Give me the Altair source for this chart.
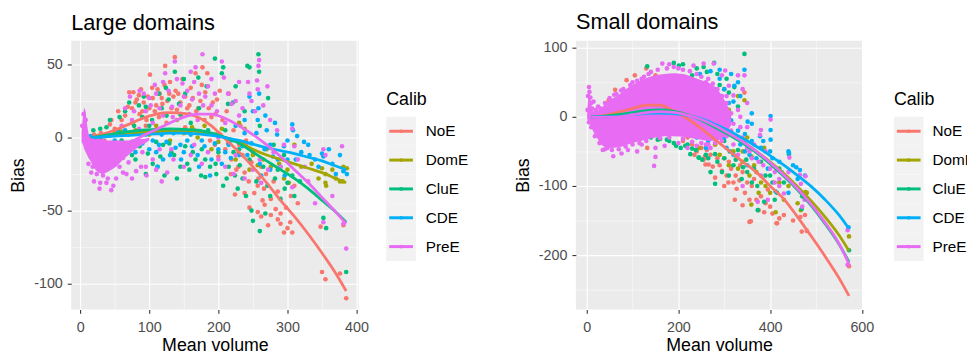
import altair as alt
import pandas as pd

FONT = "Liberation Sans, Arial, Helvetica, sans-serif"
CALIB = ["NoE", "DomE", "CluE", "CDE", "PreE"]
COLORS = ["#F8766D", "#A3A500", "#00BF7D", "#00B0F6", "#E76BF3"]

TITLES = ["Large domains", "Small domains"]
X_TITLE = "Mean volume"
Y_TITLE = "Bias"
LEGEND_TITLE = "Calib"

# ---------------- Large domains ----------------
LARGE_X_TICKS = [0, 50, 100, 150, 200, 250, 300, 350, 400]
LARGE_Y_TICKS = [-100, -75, -50, -25, 0, 25, 50]

large_noe = [(137,55),(123,49),(101,43),(177,48),(167,44),(71,31),(77,31),(85,29),(129,30),(138,32),
             (152,28),(105,27),(119,23),(160,34),(181,31),(202,32),(100,20),(86,16),(69,21),(60,12),
             (43,9),(114,14),(140,19),(171,20),(190,14),(152,7),(210,-8),(219,-15),(200,-13),(229,-20),
             (238,-24),(248,-17),(257,-33),(269,-25),(238,-38),(245,-48),(257,-51),(267,-46),(276,-53),
             (283,-49),(290,-59),(300,-62),(307,-65),(295,-65),(276,-42),(305,-40),(310,-33),(286,-37),
             (264,-43),(224,-39),(348,-61),(350,-92),(355,-97),(376,-93),(381,-60),(385,-110),(200,3),
             (188,-2),(214,-4),(30,3),(50,6),(90,18),(110,22),(125,10),(145,24),(165,5),(230,-5),
             (250,-10),(262,-20),(95,8),(60,2),(35,-2),(240,-2),(226,-22),(203,2),(280,-30),(218,-25),
             (262,-54),(20,2),(15,-3),(80,24),(130,38),(155,20),(180,12),(195,-5),(115,30),(65,15),
             (75,20),(82,26),(92,24),(98,28),(108,18),(112,33),(118,27),(126,25),(132,20),(135,28),
             (142,30),(146,15),(158,22),(163,27),(168,18),(174,25),(186,20),(192,24),(196,16),(206,12),
             (212,18),(222,5),(235,-12),(244,-30),(252,-38),(272,-60),(286,-56),(298,-48),(45,12),(55,18),
             (88,33),(96,12),(104,34),(122,36),(148,40),(176,36),(184,44),(198,26),(215,30),(232,8),
             (258,-28),(266,-35),(290,-52),(304,-58),(315,-45)]
large_dome = [(381,-20),(386,-21),(350,-21),(355,-25),(356,-33),(376,-30),(276,-20),(257,-19),(229,-11),
              (238,6),(162,7),(300,-22),(76,10),(302,-31),(355,-31),(370,-28),(250,-12),(200,-3),(150,3),
              (120,5),(100,2),(60,4),(40,2),(180,8),(215,-2),(265,-15),(288,-18),(320,-20),(140,12),
              (90,-3),(25,1),(230,10),(310,-5),(50,3),(80,5),(110,8),(130,-2),(170,0),(190,-8),(205,6),
              (225,-15),(245,-22),(270,-8),(295,-28),(335,-18),(345,-28),(365,-22),(380,-30)]
large_clue = [(137,45),(195,54),(207,48),(205,44),(258,57),(242,49),(245,48),(259,45),(272,27),(171,41),
              (214,23),(221,24),(238,18),(43,12),(57,14),(71,24),(95,21),(114,30),(143,23),(116,-13),
              (129,-4),(155,-18),(175,-26),(181,-27),(197,-25),(207,-33),(224,-26),(231,-19),(248,-50),
              (250,-57),(260,-64),(271,-33),(286,-22),(300,-31),(307,-26),(310,-40),(352,-55),(356,-62),
              (385,-92),(86,-6),(98,-11),(136,-12),(181,-15),(90,14),(19,5),(29,6),(38,7),(150,40),
              (160,10),(100,8),(60,-2),(125,15),(185,5),(230,-8),(265,-20),(280,-5),(200,-10),(215,-20),
              (240,-40),(290,-42),(120,-5),(70,-8),(110,-3),(163,-10),(195,2),(40,-18),(75,-12),(260,8),
              (65,18),(78,8),(85,22),(104,12),(118,20),(128,26),(145,16),(152,-6),(167,-15),(172,20),
              (188,-20),(210,5),(222,-10),(235,-28),(245,-15),(255,-30),(275,-40),(295,-12),(145,-20),
              (105,-18),(95,-25),(80,-15),(55,5),(30,-4),
              (112,-20),(122,-26),(132,-10),(140,-28),(158,-22),(176,-8),(196,-18),(212,-28),(228,-35),
              (268,-52),(282,-28),(296,-35),(318,-30),(92,28),(124,34),(152,30),(183,35),(225,35)]
large_cde = [(245,28),(259,30),(258,20),(257,12),(238,12),(307,9),(308,5),(300,-2),(314,1),(324,-3),
             (295,-6),(350,-11),(352,-13),(376,-12),(381,-23),(386,-25),(238,3),(219,-2),(195,-4),(176,-2),
             (162,-6),(138,-7),(114,-5),(200,-8),(248,-4),(267,-8),(279,-13),(286,-15),(30,0),(50,-2),
             (70,2),(90,-4),(100,-8),(125,-3),(150,-10),(180,-6),(210,-10),(230,-12),(260,-18),(320,-10),
             (340,-15),(365,-18),(270,5),(285,2),(15,1),(130,-12),(155,-2),(225,8),(205,-18),(290,-20),
             (60,-6),(110,-10),(275,-22),(40,2),(55,3),(75,-3),(85,3),(95,2),(105,-2),(118,2),(135,3),
             (145,-5),(160,2),(170,-12),(185,3),(190,-15),(215,-5),(235,-6),(255,3),(275,-5),(300,-15),
             (330,-5),(345,-20),(360,-8),(370,-25),(120,-15),(80,-10),(65,5),
             (112,-20),(146,-15),(172,-20),(188,-26),(218,-14),(242,-12),(262,-26),(296,-26),(312,-15),
             (332,-12),(250,18),(268,15),(282,10)]
large_pree = [(177,57),(137,52),(123,44),(167,48),(208,41),(205,52),(259,53),(258,49),(243,38),(271,35),
              (257,33),(100,27),(86,32),(148,37),(162,26),(181,28),(133,21),(219,23),(210,10),(62,-24),
              (67,-25),(48,-33),(38,-31),(29,-31),(33,-26),(57,-20),(81,-23),(126,-24),(262,-31),(307,-34),
              (310,-6),(352,-58),(385,-76),(381,-59),(379,-6),(352,-8),(307,6),(256,39),(110,30),(95,18),
              (150,28),(190,22),(230,15),(170,12),(140,5),(200,0),(240,-5),(280,-10),(60,8),(75,12),
              (120,15),(105,-15),(90,-10),(45,-20),(24,-25),(18,-20),(70,-17),(115,-8),(150,-20),(200,-15),
              (185,-10),(260,-15),(290,-20),(330,-30),(340,-45),(355,-12),(365,-40),(88,-20),(55,-12),(140,40),
              (65,20),(72,28),(78,18),(92,30),(102,22),(108,36),(115,20),(128,32),(134,14),(145,22),
              (155,32),(158,16),(165,38),(172,30),(178,22),(185,35),(195,30),(198,18),(214,30),(225,25),
              (235,20),(248,25),(253,18),(265,22),(275,12),(285,5),(295,-5),(315,-15),(325,-20),(105,10),
              (85,6),(20,-30),(28,-35),(45,-36),(52,-28),(75,-28),(95,-20),(110,-22),(135,-15),(165,-5),
              (210,-20),(225,-12),(12,-18),(16,-24),(36,-22),(40,-28),(62,-14),(3,8),(5,16),(8,12),
              (96,-26),(118,-30),(132,-8),(160,-12),(176,-18),(222,-25),(238,-28),(250,-22),(272,-22),
              (120,38),(160,45),(190,40),(230,38),(245,30)]

# dense PreE cloud near the origin (upper / lower edge)
large_cloud_x = [2, 4, 6, 8, 10, 12, 15, 18, 22, 27, 32, 38, 45, 52, 60, 70, 80, 90, 100]
large_cloud_hi = [3, 14, 20, 17, 9, 3, 0, 0, 0, -1, -1, -2, -2, -2, -2, -2, -1, -1, 0]
large_cloud_lo = [-3, -5, -8, -10, -12, -14, -16, -19, -22, -24, -25, -24, -22, -20, -16, -12, -8, -5, -2]

# smoothed curves
large_curve_x = [15, 30, 50, 70, 90, 110, 130, 150, 170, 190, 210, 230, 250, 270, 290, 310, 330, 350, 370, 385]
large_curve_y = {
    "NoE":  [0, 2, 5, 9, 13, 16, 17, 16.5, 14, 8, -1, -10, -20, -31, -43, -54, -66, -79, -93, -105],
    "DomE": [0, 0.5, 1.5, 2.5, 3.5, 4, 4.5, 4.5, 4, 2.5, 0, -3, -8, -12, -15, -18, -21, -24, -28, -31],
    "CluE": [0, 1, 2.5, 4, 5, 5.5, 6, 5.5, 5, 3, 0, -4, -10, -16, -22, -28, -35, -43, -51, -58],
    "CDE":  [0, 0.3, 1, 1.5, 2, 2.5, 3, 3, 2.5, 1.5, 0, -2, -4.5, -7, -9, -11, -13.5, -16, -19.5, -22],
    "PreE": [-1, -4, -5.5, -3.5, 1, 5.5, 10, 14, 16, 16, 13, 8, 2, -5, -13, -22, -31, -41, -51, -59],
}

# ---------------- Small domains ----------------
SMALL_X_TICKS = [0, 100, 200, 300, 400, 500, 600]
SMALL_Y_TICKS = [-250, -200, -150, -100, -50, 0, 50, 100]

small_noe = [(344,35),(87,53),(62,39),(48,24),(105,60),(266,-69),(323,-120),(355,-152),(415,-154),(280,-88),
             (305,-85),(309,-95),(327,-104),(333,-92),(358,-151),(387,-138),(414,-154),(430,-142),(466,-145),
             (476,-142),(469,-166),(572,-216),(132,-45),(258,-57),(259,-69),(240,-50),(250,-45),(270,-55),
             (290,-70),(300,-60),(315,-75),(320,-95),(340,-80),(345,-110),(360,-100),(370,-120),(380,-115),
             (400,-130),(230,-40),(220,-30),(130,70),(150,60),(120,50),(280,-40),(300,-100),(285,-60),
             (210,-35),(235,-55),(255,-62),(262,-48),(275,-72),(295,-78),(310,-65),(325,-85),(335,-70),
             (350,-95),(355,-120),(365,-90),(375,-135),(390,-125),(405,-140),(420,-147),(395,-105),
             (340,-128),(450,-150),(480,-165)]
small_dome = [(344,24),(387,-45),(359,-57),(359,-127),(412,-138),(467,-135),(477,-109),(572,-173),(300,-25),
              (320,-50),(340,-65),(370,-80),(390,-100),(330,30),(310,10),(280,-40),(350,-30),(420,-95),
              (440,-100),(260,-30),(200,-20),(120,8),(375,-110),(300,40),(245,-45),(290,-55),(310,-70),
              (330,-75),(355,-85),(365,-70),(380,-95),(400,-110),(430,-120),(460,-125),(480,-110),
              (325,-30),(290,-15),(340,-50)]
small_clue = [(344,91),(441,-54),(322,43),(305,55),(278,78),(132,73),(190,78),(201,74),(255,72),(290,46),
              (140,-30),(155,-33),(215,-42),(226,-54),(244,-59),(190,-38),(245,-59),(280,-54),(341,-73),
              (280,-97),(373,-135),(387,-123),(469,-133),(572,-193),(160,-32),(180,-35),(230,-46),(260,-55),
              (300,-60),(320,-70),(350,-80),(360,-95),(400,-85),(415,-110),(300,-35),(270,-25),(330,-48),
              (380,-65),(250,20),(230,60),(310,-85),(270,-80),(100,15),(60,5),(420,-75),
              (205,-45),(220,-40),(238,-48),(252,-62),(265,-60),(285,-65),(295,-80),(312,-50),(325,-62),
              (338,-90),(348,-62),(365,-75),(372,-100),(390,-85),(405,-95),(410,-120),(430,-95),(470,-115),
              (240,70),(262,65),(285,62),(210,76),(175,-33),(195,-42),(310,35),(330,15)]
small_cde = [(344,68),(401,1),(401,-19),(401,-33),(378,-28),(441,-52),(457,-73),(465,-77),(322,45),(320,22),
             (247,62),(351,-7),(412,-108),(476,-85),(571,-160),(440,-50),(290,55),(300,40),(310,20),(280,10),
             (330,-20),(360,-35),(300,-30),(250,-20),(200,-15),(150,-10),(100,-5),(360,-10),(380,-45),
             (420,-65),(335,30),(270,66),(290,30),(315,-5),(345,-50),(395,-75),(230,35),(260,-45),
             (240,-30),(265,-35),(285,-20),(305,-45),(320,-55),(335,-40),(345,-25),(355,-55),(370,-60),
             (385,-35),(400,-50),(405,-60),(425,-80),(450,-70),(330,50),(315,62),(290,68),(300,10),(360,5),
             (275,40),(350,-70),(440,-110),(460,-90)]
small_pree = [(5,43),(165,77),(233,74),(180,76),(200,70),(120,55),(140,65),(100,50),(80,40),(60,32),(255,77),
              (277,77),(302,67),(320,31),(330,10),(344,60),(378,-26),(380,-19),(401,-4),(442,-59),(465,-84),
              (477,-86),(467,-97),(430,-111),(373,-123),(569,-164),(569,-214),(58,-57),(76,-53),(147,-71),
              (150,-58),(90,-48),(120,-40),(200,-38),(240,-42),(260,50),(280,40),(290,20),(300,-10),(310,-25),
              (320,-40),(340,-30),(350,-45),(360,-60),(390,-50),(410,-80),(420,-90),(350,-15),(330,-55),
              (295,60),(310,45),(270,-45),(25,15),(15,22),(45,-45),(35,-48),(290,-30),(260,-40),(305,30),
              (335,0),(340,-100),(395,-120),(380,-85),
              (2,10),(3,30),(6,36),(8,28),(10,20),(12,12),(20,10),(30,12),(40,20),(50,27),(65,33),(75,38),
              (95,46),(110,52),(125,58),(135,62),(155,68),(175,70),(190,72),(210,68),(225,66),(240,62),
              (250,58),(265,55),(275,48),(285,40),(295,30),(305,20),(315,5),(320,-10),(5,-8),(10,-15),
              (18,-28),(28,-38),(40,-47),(55,-48),(70,-47),(85,-43),(100,-40),(115,-38),(130,-35),(160,-31),
              (180,-30),(210,-32),(230,-36),(250,-38),(265,-40),(280,-38),(295,-35),(305,-28),(315,-20),
              (325,-30),(335,-15),(345,-35),(355,-50),(365,-40),(375,-65),(385,-70),(400,-75),(410,-95),
              (420,-100),(440,-80),(455,-100),(470,-130),(475,-120),(350,20),(340,40),(330,60),(150,-45),
              (110,-50),(170,-42),(220,-45)]

small_cloud_x = [1, 3, 5, 7, 10, 15, 25, 35, 50, 70, 90, 110, 130, 150, 170, 190, 210, 230, 250, 270, 285, 300, 315]
small_cloud_hi = [5, 25, 38, 32, 18, 8, 9, 15, 24, 32, 42, 50, 56, 60, 62, 63, 62, 58, 53, 48, 40, 25, 5]
small_cloud_lo = [-3, -5, -8, -10, -15, -22, -33, -42, -45, -44, -40, -36, -33, -30, -28, -28, -29, -31, -33, -35, -34, -28, -12]

small_curve_x = [10, 40, 70, 100, 130, 160, 190, 220, 250, 280, 310, 340, 370, 400, 430, 460, 490, 520, 550, 572]
small_curve_y = {
    "NoE":  [0, 2, 7, 12, 17, 17, 8, -3, -17, -33, -49, -65, -80, -100, -119, -145, -173, -202, -233, -259],
    "DomE": [0, 1, 3, 5.5, 8, 9, 7.5, 3, -4, -13, -24, -36, -50, -65, -82, -101, -122, -145, -171, -194],
    "CluE": [0, 1, 3, 6, 9, 10, 8, 3, -5, -15, -26, -38, -52, -68, -86, -106, -129, -155, -184, -210],
    "CDE":  [0, 0, 0.5, 3, 5, 5.5, 4.5, 2, -3, -11, -20, -31, -43, -56, -70, -85, -101, -120, -142, -162],
    "PreE": [0, -0.5, 0, 3, 6, 7.5, 6.5, 2.5, -4, -13, -24, -36, -50, -66, -84, -104, -127, -153, -183, -213],
}


def points_frame(series):
    rows = []
    for name, pts in zip(CALIB, series):
        for x, y in pts:
            rows.append({"Calib": name, "x": x, "y": y})
    return pd.DataFrame(rows)


def curve_frame(xs, ys):
    rows = []
    for name in CALIB:
        for x, y in zip(xs, ys[name]):
            rows.append({"Calib": name, "x": x, "y": y})
    return pd.DataFrame(rows)


color_enc = alt.Color("Calib:N", scale=alt.Scale(domain=CALIB, range=COLORS), legend=None)


def axis(values, major, title_pad, label_pad):
    return alt.Axis(
        values=values,
        labelExpr=f"datum.value % {major} === 0 ? '' + datum.value : ''",
        gridWidth={"condition": {"test": f"datum.value % {major} === 0", "value": 1.1}, "value": 0.5},
        tickOpacity={"condition": {"test": f"datum.value % {major} === 0", "value": 1}, "value": 0},
        titlePadding=title_pad,
        labelPadding=label_pad,
        labelFlush=False,
    )


def panel(title, series, cloud_x, cloud_hi, cloud_lo, cx, cy, xdom, ydom, xticks, xmajor, yticks, ymajor, w, h):
    pts = points_frame(series)
    others = pts[pts["Calib"] != "PreE"]
    pree = pts[pts["Calib"] == "PreE"]
    cloud = pd.DataFrame({"x": cloud_x, "y": cloud_hi, "y2": cloud_lo})
    curves = curve_frame(cx, cy)

    X = alt.X("x:Q", scale=alt.Scale(domain=xdom, nice=False, zero=False),
              axis=axis(xticks, xmajor, 3, 7), title=X_TITLE)
    Y = alt.Y("y:Q", scale=alt.Scale(domain=ydom, nice=False, zero=False),
              axis=axis(yticks, ymajor, 6, 5), title=Y_TITLE)

    pts_other = alt.Chart(others).mark_circle(size=22, opacity=1).encode(x=X, y=Y, color=color_enc)
    cloud_layer = alt.Chart(cloud).mark_area(color=COLORS[4], opacity=1, interpolate="monotone").encode(
        x=X, y=Y, y2=alt.Y2("y2:Q"))
    pts_pree = alt.Chart(pree).mark_circle(size=22, opacity=1).encode(x=X, y=Y, color=color_enc)
    lines = alt.Chart(curves).mark_line(strokeWidth=2.8, interpolate="monotone").encode(
        x=X, y=Y, color=color_enc)

    return alt.layer(pts_other, cloud_layer, pts_pree, lines).properties(
        width=w, height=h,
        title=alt.TitleParams(title, anchor="start", frame="group", fontSize=22, font=FONT,
                              fontWeight="normal", color="black", offset=6),
        view=alt.ViewBackground(fill="#EBEBEB", strokeWidth=0),
    )


def legend_chart(w, h, x0, label_x, clip):
    df = pd.DataFrame({"Calib": CALIB})
    ysc = alt.Scale(domain=CALIB, range=[77, 223], paddingInner=0, paddingOuter=0)
    Yb = alt.Y("Calib:N", scale=ysc, axis=None)
    Yc = alt.Y("Calib:N", scale=ysc, axis=None, bandPosition=0.5)
    bg = alt.Chart(df).mark_rect(color="#F2F2F2").encode(y=Yb, x=alt.value(x0), x2=alt.value(x0 + 30))
    keys = alt.Chart(df).mark_rule(strokeWidth=3).encode(
        y=Yc, x=alt.value(x0 + 3), x2=alt.value(x0 + 27), color=color_enc)
    dots = alt.Chart(df).mark_circle(size=14, opacity=1).encode(y=Yc, x=alt.value(x0 + 15), color=color_enc)
    labels = alt.Chart(df).mark_text(align="left", baseline="middle", fontSize=15.5, font=FONT,
                                     color="black", clip=clip).encode(
        y=Yc, x=alt.value(label_x), text="Calib:N")
    ttl = alt.Chart(pd.DataFrame({"t": [LEGEND_TITLE]})).mark_text(
        align="left", baseline="middle", fontSize=18, font=FONT, color="black", clip=clip).encode(
        x=alt.value(x0), y=alt.value(60), text="t:N")
    return alt.layer(bg, keys, dots, labels, ttl).properties(
        width=w, height=h, view=alt.ViewBackground(fill="white", strokeWidth=0))


left = panel(TITLES[0], [large_noe, large_dome, large_clue, large_cde, large_pree],
             large_cloud_x, large_cloud_hi, large_cloud_lo, large_curve_x, large_curve_y,
             [-13, 403], [-117.6, 66.2], LARGE_X_TICKS, 100, LARGE_Y_TICKS, 50, 291, 272)
right = panel(TITLES[1], [small_noe, small_dome, small_clue, small_cde, small_pree],
              small_cloud_x, small_cloud_hi, small_cloud_lo, small_curve_x, small_curve_y,
              [-23.5, 601], [-278.6, 110], SMALL_X_TICKS, 200, SMALL_Y_TICKS, 100, 290, 272)

legL = legend_chart(180, 272, 8, 48, False)
legR = legend_chart(86, 272, 12, 51, True)

chart = alt.hconcat(left, legL, right, legR, spacing=20, bounds="flush",
                    padding={"left": 1, "top": 0, "right": 0, "bottom": 0}).resolve_scale(
    x="independent", y="independent"
).configure_view(strokeWidth=0).configure_axis(
    labelFont=FONT, titleFont=FONT, labelColor="#4D4D4D", tickColor="#333333", domain=False,
    gridColor="white", titleFontWeight="normal", labelFontSize=14.5, titleFontSize=18,
    titleColor="black", tickSize=4, tickWidth=1.1
)

chart.save("out.html", embed_options={"renderer": "svg", "actions": False})
